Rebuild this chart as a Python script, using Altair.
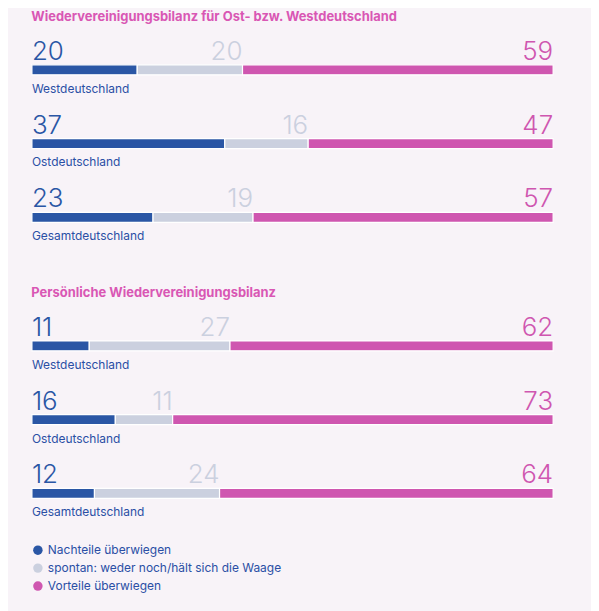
import pandas as pd
import altair as alt

# --- data -------------------------------------------------------------------
SECTIONS = [
    "Wiedervereinigungsbilanz für Ost- bzw. Westdeutschland",
    "Persönliche Wiedervereinigungsbilanz",
]
REGIONS = ["Westdeutschland", "Ostdeutschland", "Gesamtdeutschland"]
CATS = [
    "Nachteile überwiegen",
    "spontan: weder noch/hält sich die Waage",
    "Vorteile überwiegen",
]
COLORS = ["#2a56a5", "#cbd0df", "#cf56b0"]

nachteile = [[20, 37, 23], [11, 16, 12]]
weder = [[20, 16, 19], [27, 11, 24]]
vorteile = [[59, 47, 57], [62, 73, 64]]

FONT = "Inter"
BLUE_TXT = "#2a4fa5"
BG = "#f8f3f8"

rows = []
for s, sec in enumerate(SECTIONS):
    for r, reg in enumerate(REGIONS):
        vals = [nachteile[s][r], weder[s][r], vorteile[s][r]]
        total = sum(vals)
        start = 0.0
        for k, (cat, v) in enumerate(zip(CATS, vals)):
            end = start + v / total
            rows.append(dict(section=sec, region=reg, cat=cat, k=k,
                             value=v, x0=start, x1=end))
            start = end
df = pd.DataFrame(rows)

W = 523
STEP = 74

cscale = alt.Scale(domain=CATS, range=COLORS)
color = alt.Color(
    "cat:N",
    scale=cscale,
    legend=alt.Legend(
        title=None, orient="bottom", direction="vertical",
        symbolType="circle", symbolSize=90, symbolStrokeWidth=0,
        labelFont=FONT, labelFontSize=12, labelColor=BLUE_TXT,
        labelLimit=0, rowPadding=6, offset=14, padding=0,
    ),
)


def section(sec):
    base = alt.Chart(df[df["section"] == sec])
    y = alt.Y("region:N", sort=REGIONS, axis=None,
              scale=alt.Scale(paddingInner=0, paddingOuter=0))
    xs = alt.Scale(domain=[0, 1], nice=False)
    x = alt.X("x0:Q", axis=None, scale=xs)

    bars = base.mark_bar(size=10, stroke="white", strokeWidth=1.2).encode(
        x=x, x2="x1:Q", y=y, color=color,
    )
    num_left = base.transform_filter(alt.datum.k == 0).mark_text(
        align="left", baseline="alphabetic", dy=-10, font=FONT,
        fontSize=26, fontWeight=300,
    ).encode(x=x, y=y, text="value:Q",
             color=alt.Color("cat:N", scale=cscale, legend=None))
    num_right = base.transform_filter(alt.datum.k > 0).mark_text(
        align="right", baseline="alphabetic", dy=-10, font=FONT,
        fontSize=26, fontWeight=300,
    ).encode(x=alt.X("x1:Q", axis=None, scale=xs),
             y=y, text="value:Q",
             color=alt.Color("cat:N", scale=cscale, legend=None))
    lab = base.transform_filter(alt.datum.k == 0).mark_text(
        align="left", baseline="top", dy=14, font=FONT, fontSize=12,
        color=BLUE_TXT,
    ).encode(x=x, y=y, text="region:N")

    return alt.layer(bars, num_left, num_right, lab).properties(
        width=W, height=STEP * 3,
        title=alt.TitleParams(sec, anchor="start", color="#d957b4",
                              font=FONT, fontSize=13, fontWeight="bold",
                              offset=9),
    )


chart = (
    alt.vconcat(section(SECTIONS[0]), section(SECTIONS[1]), spacing=33)
    .resolve_scale(color="shared")
    .properties(padding={"left": 23, "top": 2, "right": 37, "bottom": 20},
                background=BG)
    .configure_view(stroke=None)
)

chart.save("out.html", embed_options={"renderer": "svg", "actions": False})
